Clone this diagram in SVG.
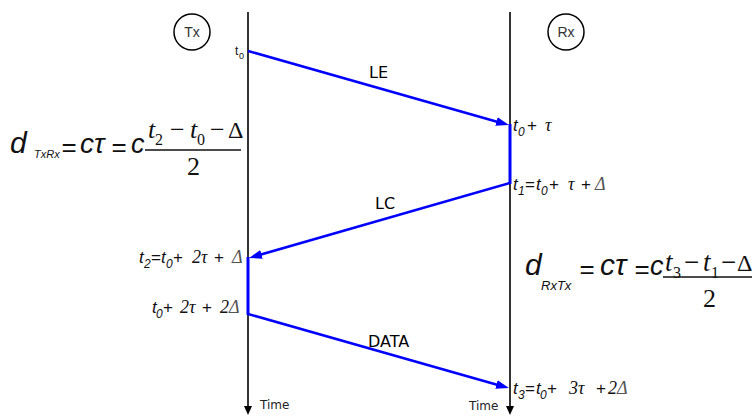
<svg xmlns="http://www.w3.org/2000/svg" width="752" height="418" viewBox="0 0 752 418">
<style>
.axis{stroke:#000;stroke-width:1.6;fill:none}
.msg{stroke:#0000ff;stroke-width:2.6;fill:none}
.dwell{stroke:#0000ff;stroke-width:3;fill:none}
.circ{stroke:#000;stroke-width:1.5;fill:#fff}
.node{font-family:"Liberation Sans",Arial,sans-serif;font-size:14px;fill:#333}
.lbl{font-family:"DejaVu Sans",sans-serif;font-size:16px;fill:#000}
.time{font-family:"DejaVu Sans",sans-serif;font-size:12px;fill:#222}
.tl{font-family:"Liberation Sans",Arial,sans-serif;fill:#111}
.it{font-style:italic;font-size:17px}
.sub{font-style:italic;font-size:12px}
.op{font-size:17px}
.gr{font-family:"Liberation Serif","Times New Roman",serif;font-style:italic;font-size:18px}
.dl{fill:#555}
.eq{font-family:"Liberation Sans",Arial,sans-serif;fill:#111}
.eqo{font-family:"Liberation Sans",Arial,sans-serif;fill:#111;font-size:26px;text-anchor:middle}
.eqs{font-family:"Liberation Serif","Times New Roman",serif;fill:#111}
</style>
<defs>
<marker id="ah" markerUnits="userSpaceOnUse" markerWidth="14" markerHeight="10" refX="7" refY="4.5" orient="auto">
<path d="M0,0 L13,4.5 L0,9 z" fill="#0000ff"/>
</marker>
</defs>

<g id="Tx">
<line class="axis" x1="248" y1="12" x2="248" y2="408"/>
<polygon points="244,406 252,406 248,415" fill="#000"/>
<circle class="circ" cx="192" cy="32" r="18"/>
<text class="node" x="192" y="37" text-anchor="middle">Tx</text>
<text class="time" x="260" y="409">Time</text>
</g>

<g id="Rx">
<line class="axis" x1="510" y1="12" x2="510" y2="408"/>
<polygon points="506,406 514,406 510,415" fill="#000"/>
<circle class="circ" cx="566" cy="32" r="18"/>
<text class="node" x="566" y="37" text-anchor="middle">Rx</text>
<text class="time" x="469" y="410">Time</text>
</g>

<g id="connectors">
<line class="msg" x1="248" y1="51" x2="503.2" y2="123.4" marker-end="url(#ah)"/>
<line class="dwell" x1="510" y1="124" x2="510" y2="184"/>
<line class="msg" x1="510" y1="183" x2="254.8" y2="256.3" marker-end="url(#ah)"/>
<line class="dwell" x1="248" y1="257" x2="248" y2="315"/>
<line class="msg" x1="248" y1="314" x2="503.2" y2="386.4" marker-end="url(#ah)"/>
<text class="lbl" x="369" y="78">LE</text>
<text class="lbl" x="375" y="209">LC</text>
<text class="lbl" x="368" y="347">DATA</text>
</g>

<g id="times">
<text class="tl" y="55"><tspan x="235" font-size="12">t</tspan><tspan x="239" y="59" font-size="9">0</tspan></text>

<text class="tl" y="131"><tspan class="it" x="513">t</tspan><tspan class="sub" x="518" y="136">0</tspan><tspan class="op" x="527" y="131">+</tspan><tspan class="gr" x="545">τ</tspan></text>

<text class="tl" y="190"><tspan class="it" x="513">t</tspan><tspan class="sub" x="518" y="195">1</tspan><tspan class="op" x="525" y="190">=</tspan><tspan class="it" x="536">t</tspan><tspan class="sub" x="541" y="195">0</tspan><tspan class="op" x="549" y="190">+</tspan><tspan class="gr" x="568">τ</tspan><tspan class="op" x="581">+</tspan><tspan class="gr dl" x="595">Δ</tspan></text>

<text class="tl" y="263"><tspan class="it" x="139">t</tspan><tspan class="sub" x="144" y="268">2</tspan><tspan class="op" x="151" y="263">=</tspan><tspan class="it" x="161">t</tspan><tspan class="sub" x="166" y="268">0</tspan><tspan class="op" x="173" y="263">+</tspan><tspan class="gr" x="192">2τ</tspan><tspan class="op" x="214">+</tspan><tspan class="gr dl" x="232">Δ</tspan></text>

<text class="tl" y="313"><tspan class="it" x="152">t</tspan><tspan class="sub" x="156" y="318">0</tspan><tspan class="op" x="163" y="313">+</tspan><tspan class="gr" x="180">2τ</tspan><tspan class="op" x="202">+</tspan><tspan class="gr" x="220">2</tspan><tspan class="gr dl">Δ</tspan></text>

<text class="tl" y="394"><tspan class="it" x="513">t</tspan><tspan class="sub" x="518" y="399">3</tspan><tspan class="op" x="525" y="394">=</tspan><tspan class="it" x="536">t</tspan><tspan class="sub" x="540" y="399">0</tspan><tspan class="op" x="547" y="394">+</tspan><tspan class="gr" x="569">3τ</tspan><tspan class="op" x="596">+</tspan><tspan class="gr" x="608">2</tspan><tspan class="gr dl">Δ</tspan></text>
</g>

<g id="eqTxRx">
<text class="eq" x="10" y="153" font-size="30" font-style="italic">d</text>
<text class="eq" x="34" y="158" font-size="11" font-style="italic">TxRx</text>
<text class="eqo" x="69" y="156">=</text>
<text class="eq" x="80" y="153" font-size="28" font-style="italic">cτ</text>
<text class="eqo" x="119" y="156">=</text>
<text class="eq" x="131" y="153" font-size="27" font-style="italic">c</text>
<text class="eqs" y="138" font-size="26"><tspan x="148" font-style="italic">t</tspan><tspan x="155" y="145" font-size="16">2</tspan><tspan x="170" y="138">−</tspan><tspan x="190" font-style="italic">t</tspan><tspan x="197" y="145" font-size="16">0</tspan><tspan x="210" y="138">−</tspan><tspan x="228" font-size="24">Δ</tspan></text>
<line x1="145" y1="150" x2="241" y2="150" stroke="#111" stroke-width="1.3"/>
<text class="eqs" x="187" y="175" font-size="26">2</text>
</g>

<g id="eqRxTx">
<text class="eq" x="525" y="275" font-size="30" font-style="italic">d</text>
<text class="eq" x="541" y="290" font-size="13" font-style="italic">RxTx</text>
<text class="eqo" x="587" y="278">=</text>
<text class="eq" x="600" y="275" font-size="30" font-style="italic">cτ</text>
<text class="eqo" x="642" y="278">=</text>
<text class="eq" x="650" y="275" font-size="27" font-style="italic">c</text>
<text class="eqs" y="271" font-size="27"><tspan x="665" font-style="italic">t</tspan><tspan x="673" y="278" font-size="16">3</tspan><tspan x="684" y="271">−</tspan><tspan x="703" font-style="italic">t</tspan><tspan x="711" y="278" font-size="16">1</tspan><tspan x="721" y="271">−</tspan><tspan x="737" font-size="24">Δ</tspan></text>
<line x1="663" y1="277" x2="752" y2="277" stroke="#111" stroke-width="1.3"/>
<text class="eqs" x="703" y="307" font-size="26">2</text>
</g>
</svg>
